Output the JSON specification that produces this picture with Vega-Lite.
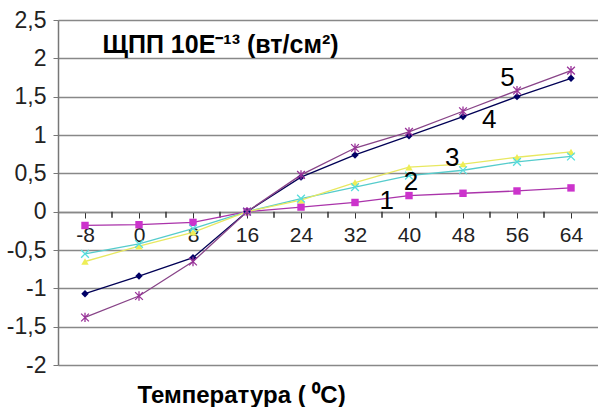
{
  "$schema": "https://vega.github.io/schema/vega-lite/v6.json",
  "width": 540,
  "height": 345,
  "autosize": {"type": "none"},
  "padding": {"left": 58, "top": 20, "right": 0, "bottom": 42},
  "background": "white",
  "config": {"view": {"stroke": null}, "font": "Liberation Sans"},
  "datasets": {
    "series": [
      {"s": "1", "t": -8, "v": -0.18}, {"s": "1", "t": 0, "v": -0.17}, {"s": "1", "t": 8, "v": -0.14}, {"s": "1", "t": 16, "v": 0}, {"s": "1", "t": 24, "v": 0.06}, {"s": "1", "t": 32, "v": 0.12}, {"s": "1", "t": 40, "v": 0.21}, {"s": "1", "t": 48, "v": 0.24}, {"s": "1", "t": 56, "v": 0.27}, {"s": "1", "t": 64, "v": 0.31},
      {"s": "2", "t": -8, "v": -0.55}, {"s": "2", "t": 0, "v": -0.42}, {"s": "2", "t": 8, "v": -0.22}, {"s": "2", "t": 16, "v": 0}, {"s": "2", "t": 24, "v": 0.17}, {"s": "2", "t": 32, "v": 0.32}, {"s": "2", "t": 40, "v": 0.47}, {"s": "2", "t": 48, "v": 0.54}, {"s": "2", "t": 56, "v": 0.65}, {"s": "2", "t": 64, "v": 0.72},
      {"s": "3", "t": -8, "v": -0.65}, {"s": "3", "t": 0, "v": -0.45}, {"s": "3", "t": 8, "v": -0.27}, {"s": "3", "t": 16, "v": 0}, {"s": "3", "t": 24, "v": 0.15}, {"s": "3", "t": 32, "v": 0.38}, {"s": "3", "t": 40, "v": 0.58}, {"s": "3", "t": 48, "v": 0.62}, {"s": "3", "t": 56, "v": 0.71}, {"s": "3", "t": 64, "v": 0.78},
      {"s": "4", "t": -8, "v": -1.07}, {"s": "4", "t": 0, "v": -0.84}, {"s": "4", "t": 8, "v": -0.60}, {"s": "4", "t": 16, "v": 0}, {"s": "4", "t": 24, "v": 0.45}, {"s": "4", "t": 32, "v": 0.74}, {"s": "4", "t": 40, "v": 0.99}, {"s": "4", "t": 48, "v": 1.24}, {"s": "4", "t": 56, "v": 1.50}, {"s": "4", "t": 64, "v": 1.74},
      {"s": "5", "t": -8, "v": -1.38}, {"s": "5", "t": 0, "v": -1.10}, {"s": "5", "t": 8, "v": -0.65}, {"s": "5", "t": 16, "v": 0}, {"s": "5", "t": 24, "v": 0.48}, {"s": "5", "t": 32, "v": 0.83}, {"s": "5", "t": 40, "v": 1.04}, {"s": "5", "t": 48, "v": 1.31}, {"s": "5", "t": 56, "v": 1.58}, {"s": "5", "t": 64, "v": 1.84}
    ],
    "labels": [
      {"n": "1", "t": 36.7, "v": 0.14},
      {"n": "2", "t": 40.3, "v": 0.39},
      {"n": "3", "t": 46.4, "v": 0.70},
      {"n": "4", "t": 51.9, "v": 1.19},
      {"n": "5", "t": 54.6, "v": 1.74}
    ],
    "xticks": [
      {"t": -4, "v": 0}, {"t": 4, "v": 0}, {"t": 12, "v": 0}, {"t": 20, "v": 0}, {"t": 28, "v": 0},
      {"t": 36, "v": 0}, {"t": 44, "v": 0}, {"t": 52, "v": 0}, {"t": 60, "v": 0}
    ]
  },
  "encoding": {
    "x": {
      "field": "t", "type": "quantitative",
      "scale": {"domain": [-12, 68], "nice": false, "zero": false},
      "axis": {
        "values": [-8, 0, 8, 16, 24, 32, 40, 48, 56, 64],
        "labelExpr": "replace(format(datum.value, ''), '\u2212', '-')",
        "offset": -153,
        "ticks": true,
        "tickColor": "#333333",
        "tickSize": 6,
        "grid": false,
        "domainColor": "#888888",
        "domainWidth": 1.5,
        "labelFontSize": 21,
        "labelColor": "#222222",
        "labelPadding": 6,
        "labelFlush": false,
        "labelOverlap": false,
        "title": "Температура ( ⁰C)",
        "titleFontSize": 24,
        "titleFontWeight": "bold",
        "titleColor": "#000000",
        "titleAlign": "left",
        "titleBaseline": "middle",
        "titleX": 79,
        "titleY": 183
      }
    },
    "y": {
      "field": "v", "type": "quantitative",
      "scale": {"domain": [-2, 2.5], "nice": false, "zero": false},
      "axis": {
        "values": [-2, -1.5, -1, -0.5, 0, 0.5, 1, 1.5, 2, 2.5],
        "labelExpr": "replace(replace(format(datum.value, ''), '.', ','), '\u2212', '-')",
        "grid": true,
        "gridColor": "#888888",
        "gridWidth": 1.5,
        "domainColor": "#777777",
        "domainWidth": 1.5,
        "tickColor": "#777777",
        "tickSize": 5,
        "labelFontSize": 23,
        "labelColor": "#222222",
        "labelPadding": 7,
        "labelFlush": false,
        "labelOverlap": false,
        "title": "ЩПП 10E⁻¹³ (вт/см²)",
        "titleAngle": 0,
        "titleFontSize": 25,
        "titleFontWeight": "bold",
        "titleColor": "#000000",
        "titleAlign": "left",
        "titleBaseline": "middle",
        "titleX": 44,
        "titleY": 24
      }
    }
  },
  "layer": [
    {
      "data": {"name": "xticks"},
      "mark": {"type": "tick", "orient": "vertical", "size": 6, "thickness": 1.5, "color": "#333333", "opacity": 1, "yOffset": 3}
    },
    {
      "data": {"name": "series"},
      "mark": {"type": "line", "strokeWidth": 1.3},
      "encoding": {
        "color": {
          "field": "s", "type": "nominal",
          "scale": {"domain": ["1", "2", "3", "4", "5"], "range": ["#AA33AA", "#55CCCC", "#E8E860", "#000055", "#884488"]},
          "legend": null
        }
      }
    },
    {
      "data": {"name": "series"},
      "transform": [{"filter": "datum.s == '1' || datum.s == '3' || datum.s == '4'"}],
      "mark": {"type": "point", "filled": true, "opacity": 1, "size": 55},
      "encoding": {
        "color": {
          "field": "s", "type": "nominal",
          "scale": {"domain": ["1", "2", "3", "4", "5"], "range": ["#CC33CC", "#55DDDD", "#EEEE55", "#000066", "#993399"]},
          "legend": null
        },
        "shape": {
          "field": "s", "type": "nominal",
          "scale": {"domain": ["1", "3", "4"], "range": ["square", "triangle-up", "diamond"]},
          "legend": null
        }
      }
    },
    {
      "data": {"name": "series"},
      "transform": [{"filter": "datum.s == '2' || datum.s == '5'"}],
      "mark": {"type": "point", "filled": false, "opacity": 1, "size": 60, "strokeWidth": 1.3},
      "encoding": {
        "color": {
          "field": "s", "type": "nominal",
          "scale": {"domain": ["1", "2", "3", "4", "5"], "range": ["#CC33CC", "#55DDDD", "#EEEE55", "#000066", "#993399"]},
          "legend": null
        },
        "shape": {
          "field": "s", "type": "nominal",
          "scale": {"domain": ["2", "5"], "range": ["M-1,-1L1,1M-1,1L1,-1", "M-1,-1L1,1M-1,1L1,-1M0,-1.2L0,1.2"]},
          "legend": null
        }
      }
    },
    {
      "data": {"name": "labels"},
      "mark": {"type": "text", "fontSize": 26, "color": "#000000", "align": "center", "baseline": "middle"},
      "encoding": {
        "text": {"field": "n"}
      }
    }
  ],
  "resolve": {"scale": {"color": "independent", "shape": "independent"}}
}
